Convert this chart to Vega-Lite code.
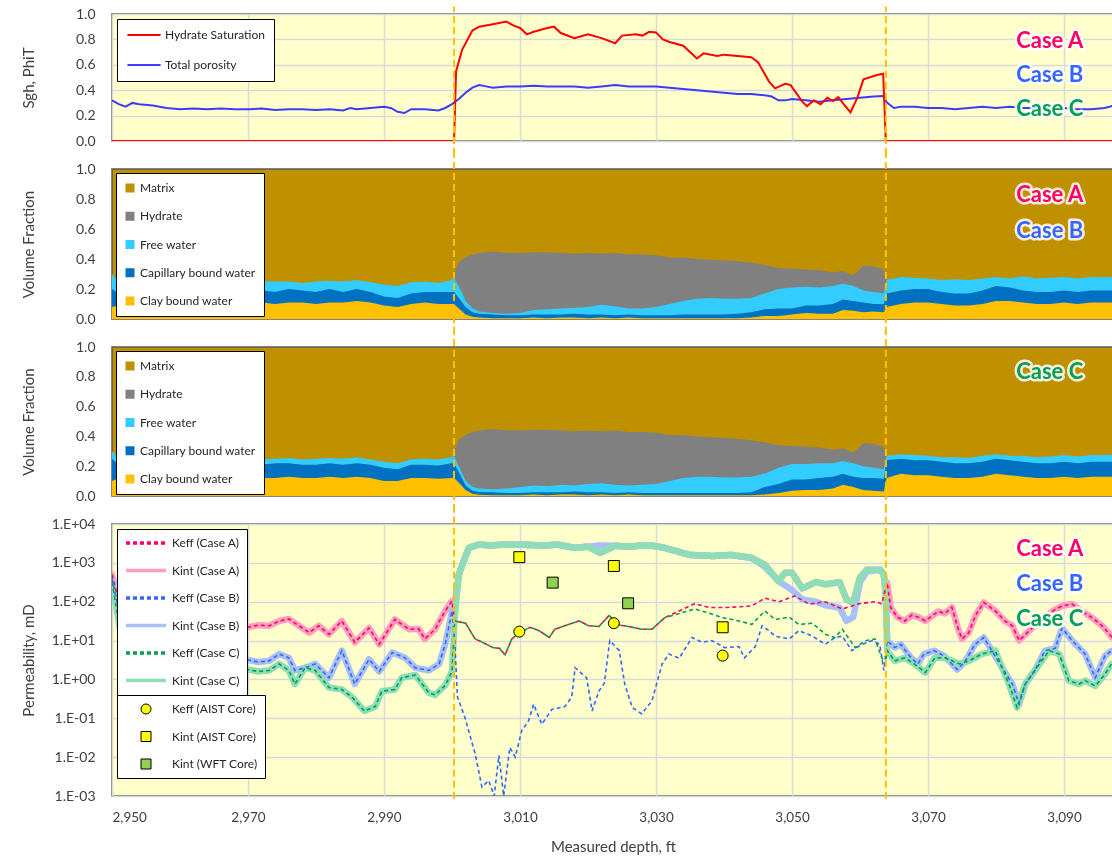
{
"$schema": "https://vega.github.io/schema/vega-lite/v6.json",
"background": "white",
"padding": {"left": 20, "right": 0, "top": 4, "bottom": 0},
"spacing": 28,
"bounds": "flush",
"resolve": {"scale": {"color": "independent", "fill": "independent", "shape": "independent", "strokeDash": "independent", "y": "independent"}, "legend": {"color": "independent", "fill": "independent", "shape": "independent", "strokeDash": "independent"}},
"config": {
 "font": "Lato",
 "view": {"stroke": "#595959", "strokeWidth": 1.5},
 "axis": {"labelFont": "Lato", "titleFont": "Lato", "labelFontSize": 14, "titleFontSize": 15, "titleFontWeight": "normal", "labelColor": "#404040", "titleColor": "#404040", "gridColor": "#D9D9D9", "gridWidth": 1.5, "domain": false, "ticks": false, "labelPadding": 17},
 "axisY": {"titleX": -76, "labelOverlap": false},
 "legend": {"orient": "top-left", "fillColor": "white", "strokeColor": "#000000", "padding": 8, "offset": 5, "labelFont": "Lato", "labelFontSize": 12, "labelColor": "#262626", "layout": {"top-left": {"direction": "vertical", "margin": -8, "anchor": "start"}}}
},
"datasets": {
 "sgh": [{"d":2950,"v":0},{"d":3000.3,"v":0},{"d":3000.6,"v":0.55},{"d":3001.5,"v":0.72},{"d":3003,"v":0.87},{"d":3004,"v":0.9},{"d":3006,"v":0.92},{"d":3008,"v":0.94},{"d":3009,"v":0.91},{"d":3010,"v":0.89},{"d":3011,"v":0.84},{"d":3012,"v":0.86},{"d":3014,"v":0.89},{"d":3015,"v":0.9},{"d":3016,"v":0.85},{"d":3018,"v":0.81},{"d":3020,"v":0.84},{"d":3022,"v":0.81},{"d":3024,"v":0.77},{"d":3025,"v":0.83},{"d":3027,"v":0.84},{"d":3028,"v":0.83},{"d":3029,"v":0.86},{"d":3030,"v":0.855},{"d":3031,"v":0.8},{"d":3032,"v":0.78},{"d":3034,"v":0.75},{"d":3035,"v":0.7},{"d":3036,"v":0.65},{"d":3037,"v":0.69},{"d":3039,"v":0.67},{"d":3040,"v":0.68},{"d":3042,"v":0.67},{"d":3044,"v":0.66},{"d":3045,"v":0.62},{"d":3046.6,"v":0.47},{"d":3047.5,"v":0.415},{"d":3049,"v":0.45},{"d":3049.8,"v":0.44},{"d":3051.5,"v":0.31},{"d":3052.2,"v":0.275},{"d":3053.2,"v":0.32},{"d":3054.2,"v":0.29},{"d":3055.2,"v":0.34},{"d":3056,"v":0.315},{"d":3056.8,"v":0.345},{"d":3057.6,"v":0.29},{"d":3058.6,"v":0.225},{"d":3059.6,"v":0.34},{"d":3060.5,"v":0.485},{"d":3062.5,"v":0.52},{"d":3063.4,"v":0.53},{"d":3063.8,"v":0},{"d":3098,"v":0}],
 "phi": [{"d":2950,"v":0.32},{"d":2951,"v":0.29},{"d":2952,"v":0.27},{"d":2953,"v":0.3},{"d":2954,"v":0.29},{"d":2956,"v":0.28},{"d":2958,"v":0.26},{"d":2960,"v":0.25},{"d":2962,"v":0.255},{"d":2964,"v":0.25},{"d":2966,"v":0.255},{"d":2968,"v":0.25},{"d":2970,"v":0.25},{"d":2972,"v":0.255},{"d":2974,"v":0.245},{"d":2976,"v":0.25},{"d":2978,"v":0.25},{"d":2980,"v":0.245},{"d":2982,"v":0.25},{"d":2984,"v":0.24},{"d":2985,"v":0.26},{"d":2986,"v":0.25},{"d":2988,"v":0.26},{"d":2990,"v":0.27},{"d":2991,"v":0.26},{"d":2992,"v":0.23},{"d":2993,"v":0.22},{"d":2994,"v":0.25},{"d":2996,"v":0.25},{"d":2998,"v":0.24},{"d":2999,"v":0.26},{"d":3000,"v":0.29},{"d":3001,"v":0.33},{"d":3002,"v":0.38},{"d":3003,"v":0.42},{"d":3004,"v":0.44},{"d":3005,"v":0.43},{"d":3006,"v":0.42},{"d":3008,"v":0.43},{"d":3010,"v":0.43},{"d":3012,"v":0.435},{"d":3014,"v":0.43},{"d":3016,"v":0.43},{"d":3018,"v":0.43},{"d":3020,"v":0.42},{"d":3022,"v":0.43},{"d":3024,"v":0.44},{"d":3026,"v":0.43},{"d":3028,"v":0.43},{"d":3030,"v":0.43},{"d":3032,"v":0.42},{"d":3034,"v":0.41},{"d":3036,"v":0.4},{"d":3038,"v":0.39},{"d":3040,"v":0.38},{"d":3042,"v":0.37},{"d":3044,"v":0.37},{"d":3046,"v":0.36},{"d":3047,"v":0.35},{"d":3048,"v":0.32},{"d":3049,"v":0.32},{"d":3050,"v":0.33},{"d":3052,"v":0.32},{"d":3054,"v":0.31},{"d":3056,"v":0.32},{"d":3058,"v":0.33},{"d":3060,"v":0.34},{"d":3062,"v":0.35},{"d":3063.4,"v":0.355},{"d":3064,"v":0.3},{"d":3065,"v":0.26},{"d":3066,"v":0.27},{"d":3068,"v":0.27},{"d":3070,"v":0.26},{"d":3072,"v":0.26},{"d":3074,"v":0.25},{"d":3076,"v":0.26},{"d":3078,"v":0.27},{"d":3080,"v":0.26},{"d":3082,"v":0.27},{"d":3084,"v":0.26},{"d":3086,"v":0.26},{"d":3088,"v":0.25},{"d":3090,"v":0.26},{"d":3092,"v":0.25},{"d":3094,"v":0.25},{"d":3096,"v":0.26},{"d":3098,"v":0.29}],
 "hyd": [{"d":3000.3,"v":0.3},{"d":3001,"v":0.38},{"d":3002,"v":0.41},{"d":3003,"v":0.43},{"d":3004,"v":0.44},{"d":3006,"v":0.45},{"d":3008,"v":0.44},{"d":3010,"v":0.44},{"d":3012,"v":0.445},{"d":3014,"v":0.445},{"d":3016,"v":0.44},{"d":3018,"v":0.435},{"d":3020,"v":0.44},{"d":3022,"v":0.435},{"d":3024,"v":0.44},{"d":3026,"v":0.43},{"d":3028,"v":0.43},{"d":3030,"v":0.425},{"d":3032,"v":0.41},{"d":3034,"v":0.41},{"d":3036,"v":0.4},{"d":3038,"v":0.395},{"d":3040,"v":0.39},{"d":3042,"v":0.385},{"d":3044,"v":0.375},{"d":3046,"v":0.36},{"d":3048,"v":0.34},{"d":3050,"v":0.335},{"d":3052,"v":0.33},{"d":3054,"v":0.325},{"d":3056,"v":0.31},{"d":3057.5,"v":0.32},{"d":3059,"v":0.29},{"d":3060.5,"v":0.355},{"d":3062,"v":0.35},{"d":3063.5,"v":0.33},{"d":3063.9,"v":0.26}],
 "vf2": [{"d":2950,"y":0.08,"db":0.2,"lb":0.3},{"d":2951,"y":0.09,"db":0.17,"lb":0.25},{"d":2952,"y":0.1,"db":0.17,"lb":0.24},{"d":2954,"y":0.11,"db":0.17,"lb":0.24},{"d":2956,"y":0.1,"db":0.16,"lb":0.23},{"d":2958,"y":0.11,"db":0.17,"lb":0.24},{"d":2960,"y":0.1,"db":0.16,"lb":0.24},{"d":2962,"y":0.11,"db":0.17,"lb":0.245},{"d":2964,"y":0.11,"db":0.18,"lb":0.25},{"d":2966,"y":0.1,"db":0.17,"lb":0.24},{"d":2968,"y":0.11,"db":0.17,"lb":0.245},{"d":2970,"y":0.11,"db":0.2,"lb":0.25},{"d":2972,"y":0.11,"db":0.19,"lb":0.25},{"d":2974,"y":0.1,"db":0.18,"lb":0.25},{"d":2976,"y":0.11,"db":0.2,"lb":0.25},{"d":2978,"y":0.11,"db":0.19,"lb":0.24},{"d":2980,"y":0.1,"db":0.18,"lb":0.25},{"d":2982,"y":0.11,"db":0.2,"lb":0.255},{"d":2984,"y":0.11,"db":0.18,"lb":0.25},{"d":2986,"y":0.12,"db":0.2,"lb":0.26},{"d":2988,"y":0.11,"db":0.18,"lb":0.245},{"d":2990,"y":0.09,"db":0.15,"lb":0.23},{"d":2992,"y":0.08,"db":0.14,"lb":0.22},{"d":2994,"y":0.1,"db":0.17,"lb":0.245},{"d":2996,"y":0.11,"db":0.18,"lb":0.25},{"d":2998,"y":0.1,"db":0.18,"lb":0.24},{"d":3000,"y":0.1,"db":0.18,"lb":0.26},{"d":3000.3,"y":0.1,"db":0.18,"lb":0.27},{"d":3001,"y":0.07,"db":0.14,"lb":0.22},{"d":3002,"y":0.03,"db":0.08,"lb":0.12},{"d":3003,"y":0.015,"db":0.045,"lb":0.07},{"d":3004,"y":0.01,"db":0.035,"lb":0.05},{"d":3006,"y":0.005,"db":0.03,"lb":0.04},{"d":3008,"y":0.005,"db":0.025,"lb":0.035},{"d":3010,"y":0.005,"db":0.025,"lb":0.04},{"d":3012,"y":0.01,"db":0.03,"lb":0.06},{"d":3014,"y":0.005,"db":0.03,"lb":0.065},{"d":3016,"y":0.01,"db":0.03,"lb":0.07},{"d":3018,"y":0.01,"db":0.035,"lb":0.075},{"d":3020,"y":0.005,"db":0.03,"lb":0.08},{"d":3022,"y":0.01,"db":0.03,"lb":0.095},{"d":3024,"y":0.005,"db":0.025,"lb":0.085},{"d":3026,"y":0.01,"db":0.03,"lb":0.07},{"d":3028,"y":0.005,"db":0.025,"lb":0.07},{"d":3030,"y":0.005,"db":0.025,"lb":0.08},{"d":3032,"y":0.005,"db":0.025,"lb":0.1},{"d":3034,"y":0.005,"db":0.03,"lb":0.12},{"d":3036,"y":0.005,"db":0.03,"lb":0.135},{"d":3038,"y":0.005,"db":0.03,"lb":0.14},{"d":3040,"y":0.005,"db":0.03,"lb":0.135},{"d":3042,"y":0.005,"db":0.035,"lb":0.135},{"d":3044,"y":0.01,"db":0.045,"lb":0.14},{"d":3046,"y":0.02,"db":0.065,"lb":0.17},{"d":3048,"y":0.02,"db":0.07,"lb":0.2},{"d":3050,"y":0.03,"db":0.07,"lb":0.21},{"d":3052,"y":0.04,"db":0.09,"lb":0.215},{"d":3054,"y":0.035,"db":0.09,"lb":0.21},{"d":3056,"y":0.035,"db":0.1,"lb":0.22},{"d":3057.5,"y":0.06,"db":0.13,"lb":0.235},{"d":3059,"y":0.055,"db":0.12,"lb":0.22},{"d":3060.5,"y":0.045,"db":0.11,"lb":0.19},{"d":3062,"y":0.05,"db":0.1,"lb":0.18},{"d":3063.5,"y":0.045,"db":0.1,"lb":0.17},{"d":3063.9,"y":0.08,"db":0.17,"lb":0.26},{"d":3066,"y":0.1,"db":0.19,"lb":0.28},{"d":3068,"y":0.11,"db":0.2,"lb":0.275},{"d":3070,"y":0.11,"db":0.2,"lb":0.27},{"d":3072,"y":0.1,"db":0.18,"lb":0.26},{"d":3074,"y":0.09,"db":0.17,"lb":0.265},{"d":3076,"y":0.09,"db":0.17,"lb":0.26},{"d":3078,"y":0.1,"db":0.19,"lb":0.27},{"d":3080,"y":0.12,"db":0.22,"lb":0.28},{"d":3082,"y":0.12,"db":0.21,"lb":0.27},{"d":3084,"y":0.11,"db":0.19,"lb":0.285},{"d":3086,"y":0.1,"db":0.18,"lb":0.27},{"d":3088,"y":0.1,"db":0.18,"lb":0.275},{"d":3090,"y":0.11,"db":0.19,"lb":0.28},{"d":3092,"y":0.1,"db":0.18,"lb":0.27},{"d":3094,"y":0.11,"db":0.19,"lb":0.28},{"d":3096,"y":0.11,"db":0.19,"lb":0.28},{"d":3098,"y":0.11,"db":0.19,"lb":0.28}],
 "vf3": [{"d":2950,"y":0.1,"db":0.25,"lb":0.3},{"d":2951,"y":0.12,"db":0.21,"lb":0.25},{"d":2952,"y":0.12,"db":0.21,"lb":0.245},{"d":2954,"y":0.13,"db":0.22,"lb":0.25},{"d":2956,"y":0.12,"db":0.21,"lb":0.245},{"d":2958,"y":0.13,"db":0.22,"lb":0.25},{"d":2960,"y":0.12,"db":0.21,"lb":0.24},{"d":2962,"y":0.13,"db":0.22,"lb":0.25},{"d":2964,"y":0.13,"db":0.22,"lb":0.255},{"d":2966,"y":0.12,"db":0.21,"lb":0.245},{"d":2968,"y":0.13,"db":0.22,"lb":0.25},{"d":2970,"y":0.13,"db":0.22,"lb":0.25},{"d":2972,"y":0.12,"db":0.21,"lb":0.245},{"d":2974,"y":0.12,"db":0.22,"lb":0.25},{"d":2976,"y":0.13,"db":0.22,"lb":0.255},{"d":2978,"y":0.12,"db":0.21,"lb":0.245},{"d":2980,"y":0.12,"db":0.21,"lb":0.25},{"d":2982,"y":0.13,"db":0.22,"lb":0.255},{"d":2984,"y":0.12,"db":0.21,"lb":0.25},{"d":2986,"y":0.13,"db":0.22,"lb":0.26},{"d":2988,"y":0.12,"db":0.21,"lb":0.245},{"d":2990,"y":0.1,"db":0.19,"lb":0.23},{"d":2992,"y":0.1,"db":0.18,"lb":0.22},{"d":2994,"y":0.12,"db":0.21,"lb":0.245},{"d":2996,"y":0.12,"db":0.21,"lb":0.25},{"d":2998,"y":0.115,"db":0.205,"lb":0.245},{"d":3000,"y":0.12,"db":0.22,"lb":0.26},{"d":3000.3,"y":0.12,"db":0.22,"lb":0.27},{"d":3001,"y":0.09,"db":0.16,"lb":0.2},{"d":3002,"y":0.04,"db":0.07,"lb":0.1},{"d":3003,"y":0.015,"db":0.035,"lb":0.06},{"d":3004,"y":0.008,"db":0.027,"lb":0.05},{"d":3006,"y":0.005,"db":0.025,"lb":0.045},{"d":3008,"y":0.005,"db":0.02,"lb":0.05},{"d":3010,"y":0.005,"db":0.02,"lb":0.06},{"d":3012,"y":0.01,"db":0.025,"lb":0.07},{"d":3014,"y":0.005,"db":0.025,"lb":0.065},{"d":3016,"y":0.01,"db":0.025,"lb":0.075},{"d":3018,"y":0.01,"db":0.03,"lb":0.07},{"d":3020,"y":0.005,"db":0.025,"lb":0.08},{"d":3022,"y":0.01,"db":0.025,"lb":0.085},{"d":3024,"y":0.005,"db":0.02,"lb":0.075},{"d":3026,"y":0.01,"db":0.025,"lb":0.07},{"d":3028,"y":0.005,"db":0.02,"lb":0.075},{"d":3030,"y":0.005,"db":0.02,"lb":0.08},{"d":3032,"y":0.005,"db":0.02,"lb":0.1},{"d":3034,"y":0.005,"db":0.02,"lb":0.12},{"d":3036,"y":0.005,"db":0.02,"lb":0.13},{"d":3038,"y":0.005,"db":0.02,"lb":0.13},{"d":3040,"y":0.005,"db":0.02,"lb":0.125},{"d":3042,"y":0.005,"db":0.02,"lb":0.125},{"d":3044,"y":0.005,"db":0.025,"lb":0.13},{"d":3046,"y":0.01,"db":0.06,"lb":0.15},{"d":3048,"y":0.02,"db":0.08,"lb":0.19},{"d":3050,"y":0.035,"db":0.11,"lb":0.215},{"d":3052,"y":0.04,"db":0.11,"lb":0.215},{"d":3054,"y":0.04,"db":0.12,"lb":0.22},{"d":3056,"y":0.05,"db":0.13,"lb":0.22},{"d":3057.5,"y":0.075,"db":0.15,"lb":0.235},{"d":3059,"y":0.06,"db":0.13,"lb":0.22},{"d":3060.5,"y":0.04,"db":0.12,"lb":0.2},{"d":3062,"y":0.035,"db":0.12,"lb":0.19},{"d":3063.5,"y":0.03,"db":0.115,"lb":0.18},{"d":3063.9,"y":0.12,"db":0.24,"lb":0.27},{"d":3066,"y":0.15,"db":0.25,"lb":0.28},{"d":3068,"y":0.14,"db":0.24,"lb":0.275},{"d":3070,"y":0.14,"db":0.24,"lb":0.27},{"d":3072,"y":0.13,"db":0.23,"lb":0.26},{"d":3074,"y":0.12,"db":0.22,"lb":0.26},{"d":3076,"y":0.12,"db":0.22,"lb":0.255},{"d":3078,"y":0.13,"db":0.23,"lb":0.27},{"d":3080,"y":0.15,"db":0.25,"lb":0.28},{"d":3082,"y":0.14,"db":0.24,"lb":0.27},{"d":3084,"y":0.13,"db":0.23,"lb":0.27},{"d":3086,"y":0.12,"db":0.22,"lb":0.26},{"d":3088,"y":0.12,"db":0.22,"lb":0.265},{"d":3090,"y":0.13,"db":0.23,"lb":0.275},{"d":3092,"y":0.12,"db":0.22,"lb":0.265},{"d":3094,"y":0.13,"db":0.23,"lb":0.275},{"d":3096,"y":0.13,"db":0.23,"lb":0.275},{"d":3098,"y":0.13,"db":0.23,"lb":0.28}],
 "keA": [{"d":2950,"v":500},{"d":2951,"v":100},{"d":2952,"v":32},{"d":2954,"v":20},{"d":2956,"v":25},{"d":2958,"v":16},{"d":2960,"v":25},{"d":2962,"v":20},{"d":2964,"v":13},{"d":2966,"v":20},{"d":2968,"v":16},{"d":2970,"v":22},{"d":2971.5,"v":25},{"d":2973.1,"v":24},{"d":2974.6,"v":32},{"d":2976,"v":36},{"d":2977.5,"v":24},{"d":2979,"v":16},{"d":2980.4,"v":24},{"d":2981.9,"v":14.5},{"d":2983.8,"v":32},{"d":2985.7,"v":9},{"d":2987.8,"v":21},{"d":2989.3,"v":8},{"d":2991.6,"v":35},{"d":2993.7,"v":19.5},{"d":2995.1,"v":20},{"d":2996,"v":11},{"d":2997.5,"v":19.5},{"d":2999,"v":58},{"d":3000,"v":105},{"d":3000.4,"v":32},{"d":3002,"v":28},{"d":3003.4,"v":11},{"d":3004.5,"v":9},{"d":3006,"v":6.6},{"d":3007,"v":6.3},{"d":3007.8,"v":4.3},{"d":3008.8,"v":11},{"d":3009.9,"v":16},{"d":3011.5,"v":22},{"d":3012.8,"v":18},{"d":3014.3,"v":12},{"d":3015.1,"v":19.5},{"d":3016.6,"v":24},{"d":3018.7,"v":32},{"d":3020.1,"v":24},{"d":3021.6,"v":23},{"d":3023.1,"v":44},{"d":3024.6,"v":25},{"d":3026,"v":23},{"d":3027.9,"v":19.5},{"d":3029.4,"v":19.5},{"d":3031.3,"v":39},{"d":3033.4,"v":58},{"d":3035.7,"v":89},{"d":3037.8,"v":71},{"d":3040.1,"v":71},{"d":3042.2,"v":74},{"d":3044.1,"v":78},{"d":3046,"v":123},{"d":3048.1,"v":100},{"d":3050.4,"v":141},{"d":3052.5,"v":87},{"d":3054.9,"v":100},{"d":3057.4,"v":65},{"d":3059.9,"v":89},{"d":3062.2,"v":100},{"d":3063.2,"v":89},{"d":3063.7,"v":200},{"d":3064,"v":310},{"d":3064.5,"v":71},{"d":3065.5,"v":40},{"d":3066.6,"v":32},{"d":3067.6,"v":45},{"d":3068.6,"v":40},{"d":3069.6,"v":32},{"d":3070.5,"v":42},{"d":3071.5,"v":56},{"d":3072.5,"v":50},{"d":3073.5,"v":72},{"d":3074.4,"v":21},{"d":3075,"v":11},{"d":3076,"v":16},{"d":3077,"v":45},{"d":3078.2,"v":96},{"d":3079.9,"v":58},{"d":3081.3,"v":32},{"d":3082.4,"v":24},{"d":3083.4,"v":10},{"d":3084.9,"v":18},{"d":3086.8,"v":35},{"d":3088.5,"v":60},{"d":3089.7,"v":78},{"d":3091.2,"v":87},{"d":3092.6,"v":58},{"d":3094.1,"v":39},{"d":3095.6,"v":24},{"d":3097.1,"v":12},{"d":3098,"v":10}],
 "kiA": [{"d":2950,"v":500},{"d":2951,"v":100},{"d":2952,"v":32},{"d":2954,"v":20},{"d":2956,"v":25},{"d":2958,"v":16},{"d":2960,"v":25},{"d":2962,"v":20},{"d":2964,"v":13},{"d":2966,"v":20},{"d":2968,"v":16},{"d":2970,"v":22},{"d":2971.5,"v":25},{"d":2973.1,"v":24},{"d":2974.6,"v":32},{"d":2976,"v":36},{"d":2977.5,"v":24},{"d":2979,"v":16},{"d":2980.4,"v":24},{"d":2981.9,"v":14.5},{"d":2983.8,"v":32},{"d":2985.7,"v":9},{"d":2987.8,"v":21},{"d":2989.3,"v":8},{"d":2991.6,"v":35},{"d":2993.7,"v":19.5},{"d":2995.1,"v":20},{"d":2996,"v":11},{"d":2997.5,"v":19.5},{"d":2999,"v":58},{"d":3000,"v":105},{"d":3000.4,"v":80},{"d":3001,"v":500},{"d":3001.9,"v":1350},{"d":3002.5,"v":2450},{"d":3004,"v":3000},{"d":3005.5,"v":2800},{"d":3007,"v":2900},{"d":3009,"v":2950},{"d":3011,"v":2900},{"d":3013.5,"v":2800},{"d":3015.5,"v":2950},{"d":3018,"v":2450},{"d":3020,"v":2600},{"d":3021.8,"v":1800},{"d":3024,"v":2750},{"d":3026,"v":2600},{"d":3027.5,"v":2750},{"d":3029.5,"v":2750},{"d":3031,"v":2500},{"d":3033,"v":2000},{"d":3035,"v":1600},{"d":3038.4,"v":1500},{"d":3041,"v":1600},{"d":3044,"v":1350},{"d":3046,"v":900},{"d":3048,"v":340},{"d":3049,"v":560},{"d":3050,"v":560},{"d":3051.5,"v":220},{"d":3053.5,"v":320},{"d":3055,"v":280},{"d":3057,"v":320},{"d":3058,"v":115},{"d":3059,"v":95},{"d":3060,"v":420},{"d":3061,"v":660},{"d":3063,"v":660},{"d":3063.5,"v":500},{"d":3063.8,"v":150},{"d":3064,"v":310},{"d":3064.5,"v":71},{"d":3065.5,"v":40},{"d":3066.6,"v":32},{"d":3067.6,"v":45},{"d":3068.6,"v":40},{"d":3069.6,"v":32},{"d":3070.5,"v":42},{"d":3071.5,"v":56},{"d":3072.5,"v":50},{"d":3073.5,"v":72},{"d":3074.4,"v":21},{"d":3075,"v":11},{"d":3076,"v":16},{"d":3077,"v":45},{"d":3078.2,"v":96},{"d":3079.9,"v":58},{"d":3081.3,"v":32},{"d":3082.4,"v":24},{"d":3083.4,"v":10},{"d":3084.9,"v":18},{"d":3086.8,"v":35},{"d":3088.5,"v":60},{"d":3089.7,"v":78},{"d":3091.2,"v":87},{"d":3092.6,"v":58},{"d":3094.1,"v":39},{"d":3095.6,"v":24},{"d":3097.1,"v":12},{"d":3098,"v":10}],
 "keB": [{"d":2950,"v":400},{"d":2951,"v":60},{"d":2952,"v":8},{"d":2954,"v":4},{"d":2956,"v":5},{"d":2958,"v":2.5},{"d":2960,"v":4},{"d":2962,"v":3.2},{"d":2964,"v":2},{"d":2966,"v":4},{"d":2968,"v":2.5},{"d":2970,"v":3.2},{"d":2971.5,"v":2.8},{"d":2973.1,"v":3},{"d":2974.6,"v":4.5},{"d":2976,"v":3.6},{"d":2976.9,"v":1.7},{"d":2978.4,"v":2},{"d":2979.9,"v":2.5},{"d":2981.9,"v":1.1},{"d":2983.8,"v":5.5},{"d":2985.7,"v":0.76},{"d":2987.8,"v":3.3},{"d":2989.3,"v":1.6},{"d":2991.2,"v":4.9},{"d":2993.1,"v":3.6},{"d":2994.6,"v":2},{"d":2996.6,"v":1.7},{"d":2998.1,"v":2.5},{"d":2999,"v":8},{"d":3000,"v":58},{"d":3000.4,"v":10},{"d":3000.8,"v":0.35},{"d":3001.9,"v":0.105},{"d":3003.4,"v":0.0123},{"d":3004.4,"v":0.0017},{"d":3005.4,"v":0.0025},{"d":3006.2,"v":0.001},{"d":3006.9,"v":0.0112},{"d":3007.6,"v":0.001},{"d":3008.5,"v":0.0178},{"d":3009.3,"v":0.01},{"d":3010.3,"v":0.052},{"d":3011.2,"v":0.08},{"d":3012,"v":0.23},{"d":3013.2,"v":0.07},{"d":3014.7,"v":0.17},{"d":3016.6,"v":0.2},{"d":3017.6,"v":0.35},{"d":3018.1,"v":2},{"d":3019.8,"v":1.1},{"d":3020.6,"v":0.155},{"d":3021.6,"v":0.5},{"d":3022.4,"v":0.8},{"d":3023.2,"v":10},{"d":3024.6,"v":5.5},{"d":3025.4,"v":0.76},{"d":3026.5,"v":0.19},{"d":3027.9,"v":0.13},{"d":3029.4,"v":0.28},{"d":3030.9,"v":2.5},{"d":3031.9,"v":4.5},{"d":3033.4,"v":3.5},{"d":3035.3,"v":12},{"d":3036.8,"v":9},{"d":3038.2,"v":10},{"d":3040.1,"v":6.6},{"d":3042.2,"v":7},{"d":3043,"v":3.6},{"d":3044.6,"v":7},{"d":3045.6,"v":24},{"d":3046.6,"v":18},{"d":3047.5,"v":13},{"d":3049.6,"v":11},{"d":3051,"v":18},{"d":3053,"v":13},{"d":3054.9,"v":8},{"d":3056.3,"v":12},{"d":3057.4,"v":13},{"d":3058.8,"v":5.5},{"d":3060.3,"v":8},{"d":3061.8,"v":10},{"d":3062.9,"v":8},{"d":3063.5,"v":1.7},{"d":3064,"v":10},{"d":3065.1,"v":6.6},{"d":3066,"v":8},{"d":3067.5,"v":3.6},{"d":3068.5,"v":2.5},{"d":3069.4,"v":4.5},{"d":3070.9,"v":5.5},{"d":3072.4,"v":4},{"d":3074.3,"v":1.8},{"d":3075.4,"v":2.8},{"d":3076.9,"v":8},{"d":3078.2,"v":12},{"d":3079.4,"v":5.5},{"d":3080.9,"v":2},{"d":3082.4,"v":0.76},{"d":3083.4,"v":0.23},{"d":3084.3,"v":0.76},{"d":3085.7,"v":1.7},{"d":3087.2,"v":5.5},{"d":3088.7,"v":6.3},{"d":3089.7,"v":21},{"d":3091.2,"v":10},{"d":3093.1,"v":4.5},{"d":3094.6,"v":1.1},{"d":3096,"v":4},{"d":3097,"v":5.5},{"d":3098,"v":5}],
 "kiB": [{"d":2950,"v":400},{"d":2951,"v":60},{"d":2952,"v":8},{"d":2954,"v":4},{"d":2956,"v":5},{"d":2958,"v":2.5},{"d":2960,"v":4},{"d":2962,"v":3.2},{"d":2964,"v":2},{"d":2966,"v":4},{"d":2968,"v":2.5},{"d":2970,"v":3.2},{"d":2971.5,"v":2.8},{"d":2973.1,"v":3},{"d":2974.6,"v":4.5},{"d":2976,"v":3.6},{"d":2976.9,"v":1.7},{"d":2978.4,"v":2},{"d":2979.9,"v":2.5},{"d":2981.9,"v":1.1},{"d":2983.8,"v":5.5},{"d":2985.7,"v":0.76},{"d":2987.8,"v":3.3},{"d":2989.3,"v":1.6},{"d":2991.2,"v":4.9},{"d":2993.1,"v":3.6},{"d":2994.6,"v":2},{"d":2996.6,"v":1.7},{"d":2998.1,"v":2.5},{"d":2999,"v":8},{"d":3000,"v":58},{"d":3000.4,"v":80},{"d":3001,"v":500},{"d":3001.9,"v":1350},{"d":3002.5,"v":2450},{"d":3004,"v":3000},{"d":3005.5,"v":2800},{"d":3007,"v":2900},{"d":3009,"v":2950},{"d":3011,"v":2900},{"d":3013.5,"v":2800},{"d":3015.5,"v":2950},{"d":3018,"v":2450},{"d":3020,"v":2600},{"d":3021.8,"v":2800},{"d":3024,"v":2750},{"d":3026,"v":2600},{"d":3027.5,"v":2750},{"d":3029.5,"v":2750},{"d":3031,"v":2500},{"d":3033,"v":2000},{"d":3035,"v":1600},{"d":3038.4,"v":1500},{"d":3041,"v":1600},{"d":3044,"v":1350},{"d":3046,"v":800},{"d":3048,"v":340},{"d":3050,"v":200},{"d":3051.5,"v":115},{"d":3053.5,"v":100},{"d":3055,"v":80},{"d":3057,"v":70},{"d":3058,"v":32},{"d":3059,"v":40},{"d":3060,"v":320},{"d":3061,"v":600},{"d":3063,"v":660},{"d":3063.5,"v":500},{"d":3063.8,"v":150},{"d":3064,"v":10},{"d":3065.1,"v":6.6},{"d":3066,"v":8},{"d":3067.5,"v":3.6},{"d":3068.5,"v":2.5},{"d":3069.4,"v":4.5},{"d":3070.9,"v":5.5},{"d":3072.4,"v":4},{"d":3074.3,"v":1.8},{"d":3075.4,"v":2.8},{"d":3076.9,"v":8},{"d":3078.2,"v":12},{"d":3079.4,"v":5.5},{"d":3080.9,"v":2},{"d":3082.4,"v":0.76},{"d":3083.4,"v":0.23},{"d":3084.3,"v":0.76},{"d":3085.7,"v":1.7},{"d":3087.2,"v":5.5},{"d":3088.7,"v":6.3},{"d":3089.7,"v":21},{"d":3091.2,"v":10},{"d":3093.1,"v":4.5},{"d":3094.6,"v":1.1},{"d":3096,"v":4},{"d":3097,"v":5.5},{"d":3098,"v":5}],
 "keC": [{"d":2950,"v":320},{"d":2951,"v":30},{"d":2952,"v":3.2},{"d":2954,"v":2},{"d":2956,"v":1.6},{"d":2958,"v":2.5},{"d":2960,"v":1.3},{"d":2962,"v":2},{"d":2964,"v":1},{"d":2966,"v":1.6},{"d":2968,"v":1.3},{"d":2970,"v":1.8},{"d":2971.5,"v":1.6},{"d":2973.1,"v":1.7},{"d":2974.6,"v":2.5},{"d":2976,"v":1.7},{"d":2976.9,"v":0.76},{"d":2978.4,"v":2},{"d":2979.9,"v":1.7},{"d":2981.9,"v":0.62},{"d":2983.8,"v":0.55},{"d":2985.3,"v":0.35},{"d":2987.1,"v":0.155},{"d":2988.7,"v":0.2},{"d":2989.7,"v":0.5},{"d":2991.6,"v":0.55},{"d":2992.6,"v":1.1},{"d":2994.6,"v":1.3},{"d":2996.6,"v":0.45},{"d":2997.5,"v":0.4},{"d":2999,"v":0.7},{"d":3000,"v":1.6},{"d":3000.4,"v":32},{"d":3002,"v":28},{"d":3003.4,"v":11},{"d":3004.5,"v":9},{"d":3006,"v":6.6},{"d":3007,"v":6.3},{"d":3007.8,"v":4.3},{"d":3008.8,"v":11},{"d":3009.9,"v":16},{"d":3011.5,"v":22},{"d":3012.8,"v":18},{"d":3014.3,"v":12},{"d":3015.1,"v":19.5},{"d":3016.6,"v":24},{"d":3018.7,"v":32},{"d":3020.1,"v":24},{"d":3021.6,"v":23},{"d":3023.1,"v":44},{"d":3024.6,"v":25},{"d":3026,"v":23},{"d":3027.9,"v":19.5},{"d":3029.4,"v":19.5},{"d":3031.3,"v":39},{"d":3032.4,"v":44},{"d":3035.7,"v":65},{"d":3037.8,"v":51},{"d":3039.7,"v":39},{"d":3042.2,"v":32},{"d":3044.1,"v":26},{"d":3046,"v":58},{"d":3047.5,"v":35},{"d":3049.6,"v":40},{"d":3051,"v":26},{"d":3053,"v":28},{"d":3054.9,"v":14.5},{"d":3056.3,"v":12},{"d":3057.4,"v":19.5},{"d":3059.3,"v":6.6},{"d":3060.7,"v":9.8},{"d":3062.2,"v":11},{"d":3063.2,"v":3.6},{"d":3063.7,"v":2.5},{"d":3064,"v":5.5},{"d":3065.1,"v":3},{"d":3066.6,"v":3.6},{"d":3068,"v":2.5},{"d":3069.6,"v":1.5},{"d":3071,"v":3.6},{"d":3072.5,"v":3.6},{"d":3074.6,"v":2.5},{"d":3076,"v":3},{"d":3077.9,"v":4.5},{"d":3079.9,"v":5.5},{"d":3080.9,"v":2},{"d":3081.9,"v":0.76},{"d":3083.1,"v":0.19},{"d":3084.3,"v":0.76},{"d":3085.7,"v":1.7},{"d":3087.8,"v":5.5},{"d":3089.3,"v":4.5},{"d":3090.7,"v":0.93},{"d":3092.2,"v":0.76},{"d":3093.1,"v":0.93},{"d":3094.6,"v":0.68},{"d":3096,"v":1.35},{"d":3097,"v":2.5},{"d":3098,"v":3}],
 "kiC": [{"d":2950,"v":320},{"d":2951,"v":30},{"d":2952,"v":3.2},{"d":2954,"v":2},{"d":2956,"v":1.6},{"d":2958,"v":2.5},{"d":2960,"v":1.3},{"d":2962,"v":2},{"d":2964,"v":1},{"d":2966,"v":1.6},{"d":2968,"v":1.3},{"d":2970,"v":1.8},{"d":2971.5,"v":1.6},{"d":2973.1,"v":1.7},{"d":2974.6,"v":2.5},{"d":2976,"v":1.7},{"d":2976.9,"v":0.76},{"d":2978.4,"v":2},{"d":2979.9,"v":1.7},{"d":2981.9,"v":0.62},{"d":2983.8,"v":0.55},{"d":2985.3,"v":0.35},{"d":2987.1,"v":0.155},{"d":2988.7,"v":0.2},{"d":2989.7,"v":0.5},{"d":2991.6,"v":0.55},{"d":2992.6,"v":1.1},{"d":2994.6,"v":1.3},{"d":2996.6,"v":0.45},{"d":2997.5,"v":0.4},{"d":2999,"v":0.7},{"d":3000,"v":1.6},{"d":3000.4,"v":40},{"d":3001,"v":500},{"d":3001.9,"v":1350},{"d":3002.5,"v":2450},{"d":3004,"v":3000},{"d":3005.5,"v":2800},{"d":3007,"v":2900},{"d":3009,"v":2950},{"d":3011,"v":2900},{"d":3013.5,"v":2800},{"d":3015.5,"v":2950},{"d":3018,"v":2450},{"d":3020,"v":2600},{"d":3021.8,"v":1800},{"d":3024,"v":2750},{"d":3026,"v":2600},{"d":3027.5,"v":2750},{"d":3029.5,"v":2750},{"d":3031,"v":2500},{"d":3033,"v":2000},{"d":3035,"v":1600},{"d":3038.4,"v":1500},{"d":3041,"v":1600},{"d":3044,"v":1350},{"d":3046,"v":900},{"d":3048,"v":340},{"d":3049,"v":560},{"d":3050,"v":560},{"d":3051.5,"v":220},{"d":3053.5,"v":320},{"d":3055,"v":280},{"d":3057,"v":320},{"d":3058,"v":115},{"d":3059,"v":95},{"d":3060,"v":420},{"d":3061,"v":660},{"d":3063,"v":660},{"d":3063.5,"v":500},{"d":3063.8,"v":150},{"d":3064,"v":5.5},{"d":3065.1,"v":3},{"d":3066.6,"v":3.6},{"d":3068,"v":2.5},{"d":3069.6,"v":1.5},{"d":3071,"v":3.6},{"d":3072.5,"v":3.6},{"d":3074.6,"v":2.5},{"d":3076,"v":3},{"d":3077.9,"v":4.5},{"d":3079.9,"v":5.5},{"d":3080.9,"v":2},{"d":3081.9,"v":0.76},{"d":3083.1,"v":0.19},{"d":3084.3,"v":0.76},{"d":3085.7,"v":1.7},{"d":3087.8,"v":5.5},{"d":3089.3,"v":4.5},{"d":3090.7,"v":0.93},{"d":3092.2,"v":0.76},{"d":3093.1,"v":0.93},{"d":3094.6,"v":0.68},{"d":3096,"v":1.35},{"d":3097,"v":2.5},{"d":3098,"v":3}],
 "kaist": [{"d":3009.9,"v":17},{"d":3023.8,"v":28},{"d":3039.8,"v":4.1}],
 "kiaist": [{"d":3009.9,"v":1400},{"d":3023.8,"v":830},{"d":3039.8,"v":22}],
 "kwft": [{"d":3014.8,"v":310},{"d":3025.9,"v":91}],
 "zone": [{"d":3000.3},{"d":3063.8}]
},
"vconcat": [
 {
  "width": 1002, "height": 127,
  "view": {"fill": "#FFFFCC"},
  "layer": [
   {"data": {"name": "phi"}, "mark": {"type": "line", "strokeWidth": 2, "clip": true},
    "encoding": {
     "x": {"field": "d", "type": "quantitative", "scale": {"domain": [2950, 3097.35], "nice": false, "zero": false}, "axis": {"values": [2950,2970,2990,3010,3030,3050,3070,3090], "labels": false, "title": null, "grid": true}},
     "y": {"field": "v", "type": "quantitative", "scale": {"domain": [0, 1], "nice": false}, "axis": {"tickCount": 5, "labelExpr": "format(datum.value, '.1f')", "title": "Sgh, PhiT", "grid": true, "labelOverlap": false, "labelSeparation": -30}},
     "color": {"datum": "Total porosity", "type": "nominal", "scale": {"domain": ["Hydrate Saturation", "Total porosity"], "range": ["#FF0000", "#3B3BFF"]}, "legend": {"title": null, "symbolType": "stroke", "symbolSize": 1100, "symbolStrokeWidth": 2, "clipHeight": 14, "rowPadding": 16, "labelOffset": 3, "padding": 9}}
    }},
   {"data": {"name": "sgh"}, "mark": {"type": "line", "strokeWidth": 2, "clip": true},
    "encoding": {"x": {"field": "d", "type": "quantitative"}, "y": {"field": "v", "type": "quantitative"}, "color": {"datum": "Hydrate Saturation", "type": "nominal"}}},
   {"data": {"name": "zone"}, "mark": {"type": "rule", "color": "#FFC000", "strokeWidth": 2, "strokeDash": [7, 4]},
    "encoding": {"x": {"field": "d", "type": "quantitative"}, "y": {"datum": -0.11}, "y2": {"datum": 1.06}}},
   {"data": {"values": [{}]}, "mark": {"type": "text", "fontSize": 22, "fontWeight": "bold", "stroke": "white", "strokeWidth": 5, "strokeJoin": "round", "strokeOpacity": 0.85, "fill": "white"}, "encoding": {"x": {"datum": 3087.9}, "y": {"datum": 0.79}, "text": {"value": "Case A"}}},
   {"data": {"values": [{}]}, "mark": {"type": "text", "fontSize": 22, "fontWeight": "bold", "fill": "#FF0066"}, "encoding": {"x": {"datum": 3087.9}, "y": {"datum": 0.79}, "text": {"value": "Case A"}}},
   {"data": {"values": [{}]}, "mark": {"type": "text", "fontSize": 22, "fontWeight": "bold", "stroke": "white", "strokeWidth": 5, "strokeJoin": "round", "strokeOpacity": 0.85, "fill": "white"}, "encoding": {"x": {"datum": 3087.9}, "y": {"datum": 0.52}, "text": {"value": "Case B"}}},
   {"data": {"values": [{}]}, "mark": {"type": "text", "fontSize": 22, "fontWeight": "bold", "fill": "#3366FF"}, "encoding": {"x": {"datum": 3087.9}, "y": {"datum": 0.52}, "text": {"value": "Case B"}}},
   {"data": {"values": [{}]}, "mark": {"type": "text", "fontSize": 22, "fontWeight": "bold", "stroke": "white", "strokeWidth": 5, "strokeJoin": "round", "strokeOpacity": 0.85, "fill": "white"}, "encoding": {"x": {"datum": 3087.9}, "y": {"datum": 0.25}, "text": {"value": "Case C"}}},
   {"data": {"values": [{}]}, "mark": {"type": "text", "fontSize": 22, "fontWeight": "bold", "fill": "#00A050"}, "encoding": {"x": {"datum": 3087.9}, "y": {"datum": 0.25}, "text": {"value": "Case C"}}}
  ]
 },
 {
  "width": 1002, "height": 150,
  "view": {"fill": "#BF9000"},
  "layer": [
   {"data": {"name": "hyd"}, "mark": {"type": "area", "clip": true},
    "encoding": {
     "x": {"field": "d", "type": "quantitative", "scale": {"domain": [2950, 3097.35], "nice": false, "zero": false}, "axis": {"values": [2950,2970,2990,3010,3030,3050,3070,3090], "labels": false, "title": null, "grid": false}},
     "y": {"field": "v", "type": "quantitative", "stack": null, "scale": {"domain": [0, 1], "nice": false}, "axis": {"tickCount": 5, "labelExpr": "format(datum.value, '.1f')", "title": "Volume Fraction", "grid": false, "labelOverlap": false, "labelSeparation": -30}},
     "y2": {"datum": 0},
     "color": {"datum": "Hydrate", "type": "nominal", "scale": {"domain": ["Matrix", "Hydrate", "Free water", "Capillary bound water", "Clay bound water"], "range": ["#BF9000", "#808080", "#33CCFF", "#0070C0", "#FFC000"]}, "legend": {"title": null, "symbolType": "square", "symbolSize": 81, "clipHeight": 14, "rowPadding": 14.25, "labelOffset": 4, "padding": 8, "offset": 4}}
    }},
   {"data": {"name": "vf2"}, "mark": {"type": "area", "clip": true}, "encoding": {"x": {"field": "d", "type": "quantitative"}, "y": {"field": "lb", "type": "quantitative", "stack": null}, "y2": {"datum": 0}, "color": {"datum": "Free water", "type": "nominal"}}},
   {"data": {"name": "vf2"}, "mark": {"type": "area", "clip": true}, "encoding": {"x": {"field": "d", "type": "quantitative"}, "y": {"field": "db", "type": "quantitative", "stack": null}, "y2": {"datum": 0}, "color": {"datum": "Capillary bound water", "type": "nominal"}}},
   {"data": {"name": "vf2"}, "mark": {"type": "area", "clip": true}, "encoding": {"x": {"field": "d", "type": "quantitative"}, "y": {"field": "y", "type": "quantitative", "stack": null}, "y2": {"datum": 0}, "color": {"datum": "Clay bound water", "type": "nominal"}}},
   {"data": {"name": "zone"}, "mark": {"type": "rule", "color": "#FFC000", "strokeWidth": 2, "strokeDash": [7, 4]},
    "encoding": {"x": {"field": "d", "type": "quantitative"}, "y": {"datum": -0.1}, "y2": {"datum": 1.1}}},
   {"data": {"values": [{}]}, "mark": {"type": "text", "fontSize": 22, "fontWeight": "bold", "stroke": "white", "strokeWidth": 5, "strokeJoin": "round", "strokeOpacity": 0.85, "fill": "white"}, "encoding": {"x": {"datum": 3087.9}, "y": {"datum": 0.83}, "text": {"value": "Case A"}}},
   {"data": {"values": [{}]}, "mark": {"type": "text", "fontSize": 22, "fontWeight": "bold", "fill": "#FF0066"}, "encoding": {"x": {"datum": 3087.9}, "y": {"datum": 0.83}, "text": {"value": "Case A"}}},
   {"data": {"values": [{}]}, "mark": {"type": "text", "fontSize": 22, "fontWeight": "bold", "stroke": "white", "strokeWidth": 5, "strokeJoin": "round", "strokeOpacity": 0.85, "fill": "white"}, "encoding": {"x": {"datum": 3087.9}, "y": {"datum": 0.59}, "text": {"value": "Case B"}}},
   {"data": {"values": [{}]}, "mark": {"type": "text", "fontSize": 22, "fontWeight": "bold", "fill": "#3366FF"}, "encoding": {"x": {"datum": 3087.9}, "y": {"datum": 0.59}, "text": {"value": "Case B"}}}
  ]
 },
 {
  "width": 1002, "height": 149,
  "view": {"fill": "#BF9000"},
  "layer": [
   {"data": {"name": "hyd"}, "mark": {"type": "area", "clip": true},
    "encoding": {
     "x": {"field": "d", "type": "quantitative", "scale": {"domain": [2950, 3097.35], "nice": false, "zero": false}, "axis": {"values": [2950,2970,2990,3010,3030,3050,3070,3090], "labels": false, "title": null, "grid": false}},
     "y": {"field": "v", "type": "quantitative", "stack": null, "scale": {"domain": [0, 1], "nice": false}, "axis": {"tickCount": 5, "labelExpr": "format(datum.value, '.1f')", "title": "Volume Fraction", "grid": false, "labelOverlap": false, "labelSeparation": -30}},
     "y2": {"datum": 0},
     "color": {"datum": "Hydrate", "type": "nominal", "scale": {"domain": ["Matrix", "Hydrate", "Free water", "Capillary bound water", "Clay bound water"], "range": ["#BF9000", "#808080", "#33CCFF", "#0070C0", "#FFC000"]}, "legend": {"title": null, "symbolType": "square", "symbolSize": 81, "clipHeight": 14, "rowPadding": 14.25, "labelOffset": 4, "padding": 8, "offset": 4}}
    }},
   {"data": {"name": "vf3"}, "mark": {"type": "area", "clip": true}, "encoding": {"x": {"field": "d", "type": "quantitative"}, "y": {"field": "lb", "type": "quantitative", "stack": null}, "y2": {"datum": 0}, "color": {"datum": "Free water", "type": "nominal"}}},
   {"data": {"name": "vf3"}, "mark": {"type": "area", "clip": true}, "encoding": {"x": {"field": "d", "type": "quantitative"}, "y": {"field": "db", "type": "quantitative", "stack": null}, "y2": {"datum": 0}, "color": {"datum": "Capillary bound water", "type": "nominal"}}},
   {"data": {"name": "vf3"}, "mark": {"type": "area", "clip": true}, "encoding": {"x": {"field": "d", "type": "quantitative"}, "y": {"field": "y", "type": "quantitative", "stack": null}, "y2": {"datum": 0}, "color": {"datum": "Clay bound water", "type": "nominal"}}},
   {"data": {"name": "zone"}, "mark": {"type": "rule", "color": "#FFC000", "strokeWidth": 2, "strokeDash": [7, 4]},
    "encoding": {"x": {"field": "d", "type": "quantitative"}, "y": {"datum": -0.1}, "y2": {"datum": 1.1}}},
   {"data": {"values": [{}]}, "mark": {"type": "text", "fontSize": 22, "fontWeight": "bold", "stroke": "white", "strokeWidth": 5, "strokeJoin": "round", "strokeOpacity": 0.85, "fill": "white"}, "encoding": {"x": {"datum": 3087.9}, "y": {"datum": 0.83}, "text": {"value": "Case C"}}},
   {"data": {"values": [{}]}, "mark": {"type": "text", "fontSize": 22, "fontWeight": "bold", "fill": "#00A050"}, "encoding": {"x": {"datum": 3087.9}, "y": {"datum": 0.83}, "text": {"value": "Case C"}}}
  ]
 },
 {
  "width": 1002, "height": 272,
  "view": {"fill": "#FFFFCC"},
  "layer": [
   {"data": {"name": "kiA"}, "mark": {"type": "line", "clip": true, "strokeWidth": 6.5, "strokeCap": "round", "strokeJoin": "round", "blend": "multiply"},
    "encoding": {
     "x": {"field": "d", "type": "quantitative", "scale": {"domain": [2950, 3097.35], "nice": false, "zero": false}, "axis": {"values": [2950,2970,2990,3010,3030,3050,3070,3090], "format": ",d", "title": "Measured depth, ft", "grid": true, "labelPadding": 14, "titlePadding": 16, "labelFontSize": 13.5}},
     "y": {"field": "v", "type": "quantitative", "scale": {"type": "log", "domain": [0.001, 10000], "nice": false}, "axis": {"values": [0.001,0.01,0.1,1,10,100,1000,10000], "labelExpr": "'1.E' + (datum.value >= 1 ? '+' : '-') + format(abs(round(log(datum.value) / LN10)), '02d')", "title": "Permeability, mD", "grid": true, "labelOverlap": false}},
     "color": {"datum": "Kint (Case A)", "type": "nominal", "scale": {"domain": ["Keff (Case A)", "Kint (Case A)", "Keff (Case B)", "Kint (Case B)", "Keff (Case C)", "Kint (Case C)"], "range": ["#FF0066", "#FFA0C0", "#3366FF", "#A8C0F5", "#00A050", "#8FDDB8"]}, "legend": {"title": null, "symbolType": "stroke", "symbolSize": 1600, "symbolStrokeWidth": 3.5, "clipHeight": 14, "rowPadding": 13.5, "labelOffset": 4, "padding": 7, "labelExpr": "datum.label + '\u00a0\u00a0\u00a0\u00a0\u00a0\u00a0\u00a0'"}},
     "strokeDash": {"datum": "Kint (Case A)", "type": "nominal", "scale": {"domain": ["Keff (Case A)", "Kint (Case A)", "Keff (Case B)", "Kint (Case B)", "Keff (Case C)", "Kint (Case C)"], "range": [[4,3],[1,0],[4,3],[1,0],[4,3],[1,0]]}, "legend": {"title": null}}
    }},
   {"data": {"name": "kiB"}, "mark": {"type": "line", "clip": true, "strokeWidth": 6.5, "strokeCap": "round", "strokeJoin": "round", "blend": "multiply"},
    "encoding": {"x": {"field": "d", "type": "quantitative"}, "y": {"field": "v", "type": "quantitative"}, "color": {"datum": "Kint (Case B)", "type": "nominal"}, "strokeDash": {"datum": "Kint (Case B)", "type": "nominal"}}},
   {"data": {"name": "kiC"}, "mark": {"type": "line", "clip": true, "strokeWidth": 6.5, "strokeCap": "round", "strokeJoin": "round", "blend": "multiply"},
    "encoding": {"x": {"field": "d", "type": "quantitative"}, "y": {"field": "v", "type": "quantitative"}, "color": {"datum": "Kint (Case C)", "type": "nominal"}, "strokeDash": {"datum": "Kint (Case C)", "type": "nominal"}}},
   {"data": {"name": "keA"}, "mark": {"type": "line", "clip": true, "strokeWidth": 1.6},
    "encoding": {"x": {"field": "d", "type": "quantitative"}, "y": {"field": "v", "type": "quantitative"}, "color": {"datum": "Keff (Case A)", "type": "nominal"}, "strokeDash": {"datum": "Keff (Case A)", "type": "nominal"}}},
   {"data": {"name": "keB"}, "mark": {"type": "line", "clip": true, "strokeWidth": 1.6},
    "encoding": {"x": {"field": "d", "type": "quantitative"}, "y": {"field": "v", "type": "quantitative"}, "color": {"datum": "Keff (Case B)", "type": "nominal"}, "strokeDash": {"datum": "Keff (Case B)", "type": "nominal"}}},
   {"data": {"name": "keC"}, "mark": {"type": "line", "clip": true, "strokeWidth": 1.6},
    "encoding": {"x": {"field": "d", "type": "quantitative"}, "y": {"field": "v", "type": "quantitative"}, "color": {"datum": "Keff (Case C)", "type": "nominal"}, "strokeDash": {"datum": "Keff (Case C)", "type": "nominal"}}},
   {"data": {"name": "zone"}, "mark": {"type": "rule", "color": "#FFC000", "strokeWidth": 2, "strokeDash": [7, 4]},
    "encoding": {"x": {"field": "d", "type": "quantitative"}, "y": {"datum": 0.00085}, "y2": {"datum": 25000}}},
   {"data": {"name": "kaist"}, "mark": {"type": "point", "filled": true, "stroke": "#000000", "strokeWidth": 1, "size": 120, "opacity": 1},
    "encoding": {"x": {"field": "d", "type": "quantitative"}, "y": {"field": "v", "type": "quantitative"},
     "fill": {"datum": "Keff (AIST Core)", "type": "nominal", "scale": {"domain": ["Keff (AIST Core)", "Kint (AIST Core)", "Kint (WFT Core)"], "range": ["#FFFF00", "#FFFF00", "#92D050"]}, "legend": {"title": null, "symbolSize": 100, "symbolStrokeColor": "#000000", "symbolStrokeWidth": 1, "clipHeight": 14, "rowPadding": 13.5, "labelOffset": 20, "symbolOffset": 16, "padding": 7}},
     "shape": {"datum": "Keff (AIST Core)", "type": "nominal", "scale": {"domain": ["Keff (AIST Core)", "Kint (AIST Core)", "Kint (WFT Core)"], "range": ["circle", "square", "square"]}, "legend": {"title": null}}}},
   {"data": {"name": "kiaist"}, "mark": {"type": "point", "filled": true, "stroke": "#000000", "strokeWidth": 1, "size": 120, "opacity": 1},
    "encoding": {"x": {"field": "d", "type": "quantitative"}, "y": {"field": "v", "type": "quantitative"}, "fill": {"datum": "Kint (AIST Core)", "type": "nominal"}, "shape": {"datum": "Kint (AIST Core)", "type": "nominal"}}},
   {"data": {"name": "kwft"}, "mark": {"type": "point", "filled": true, "stroke": "#000000", "strokeWidth": 1, "size": 120, "opacity": 1},
    "encoding": {"x": {"field": "d", "type": "quantitative"}, "y": {"field": "v", "type": "quantitative"}, "fill": {"datum": "Kint (WFT Core)", "type": "nominal"}, "shape": {"datum": "Kint (WFT Core)", "type": "nominal"}}},
   {"data": {"values": [{}]}, "mark": {"type": "text", "fontSize": 22, "fontWeight": "bold", "stroke": "white", "strokeWidth": 5, "strokeJoin": "round", "strokeOpacity": 0.85, "fill": "white"}, "encoding": {"x": {"datum": 3087.9}, "y": {"datum": 2240}, "text": {"value": "Case A"}}},
   {"data": {"values": [{}]}, "mark": {"type": "text", "fontSize": 22, "fontWeight": "bold", "fill": "#FF0066"}, "encoding": {"x": {"datum": 3087.9}, "y": {"datum": 2240}, "text": {"value": "Case A"}}},
   {"data": {"values": [{}]}, "mark": {"type": "text", "fontSize": 22, "fontWeight": "bold", "stroke": "white", "strokeWidth": 5, "strokeJoin": "round", "strokeOpacity": 0.85, "fill": "white"}, "encoding": {"x": {"datum": 3087.9}, "y": {"datum": 282}, "text": {"value": "Case B"}}},
   {"data": {"values": [{}]}, "mark": {"type": "text", "fontSize": 22, "fontWeight": "bold", "fill": "#3366FF"}, "encoding": {"x": {"datum": 3087.9}, "y": {"datum": 282}, "text": {"value": "Case B"}}},
   {"data": {"values": [{}]}, "mark": {"type": "text", "fontSize": 22, "fontWeight": "bold", "stroke": "white", "strokeWidth": 5, "strokeJoin": "round", "strokeOpacity": 0.85, "fill": "white"}, "encoding": {"x": {"datum": 3087.9}, "y": {"datum": 35}, "text": {"value": "Case C"}}},
   {"data": {"values": [{}]}, "mark": {"type": "text", "fontSize": 22, "fontWeight": "bold", "fill": "#00A050"}, "encoding": {"x": {"datum": 3087.9}, "y": {"datum": 35}, "text": {"value": "Case C"}}}
  ]
 }
]
}
